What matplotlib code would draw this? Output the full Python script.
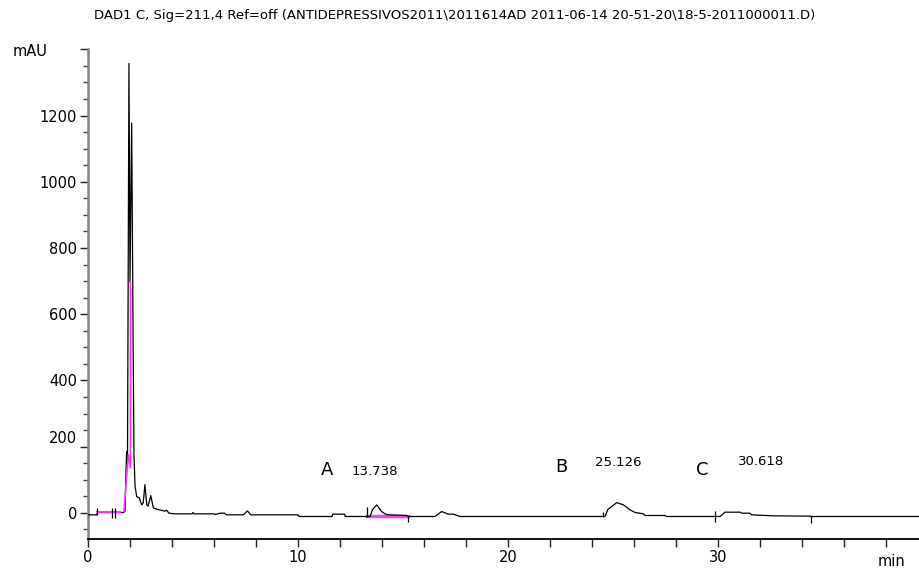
import matplotlib
matplotlib.use('Agg')
import matplotlib.pyplot as plt
from matplotlib.ticker import MultipleLocator, FixedLocator
import matplotlib.transforms as mtransforms

# signal (min, mAU)
time = [0.0, 0.42, 0.45, 1.70, 1.76, 1.81, 1.84, 1.88, 1.95, 2.00, 2.08, 2.16, 2.19,
        2.24, 2.32, 2.44, 2.56, 2.63, 2.71, 2.80, 2.86, 2.99, 3.11, 3.27, 3.67,
        3.75, 3.85, 4.1, 4.95, 5.0, 5.05, 6.0, 6.05, 6.3, 6.5, 6.6, 7.4, 7.59,
        7.75, 10.0, 10.05, 11.62, 11.65, 12.22, 12.25, 13.43, 13.55, 13.75,
        13.98, 14.14, 14.3, 15.17, 15.25, 16.52, 16.84, 17.16, 17.4, 17.71,
        24.62, 24.75, 25.18, 25.5, 25.81, 26.05, 26.44, 26.52, 27.48, 27.55,
        30.1, 30.33, 31.05, 31.13, 31.52, 31.6, 32.63, 34.4, 34.45, 39.6]
signal = [-6, -6, 1, 1, 5, 125, 185, 150, 1357, 697, 1177, 413, 175,
          80, 49, 45, 24, 30, 85, 24, 20, 52, 15, 11, 5,
          8, -1, -3, -3, 1, -3, -3, -5, -1, -1, -6, -6, 6,
          -6, -6, -11, -11, -4, -4, -11, -11, 10, 24,
          4, -3, -6, -8, -11, -11, 4, -4, -4, -11,
          -11, 10, 31, 24, 9, 1, -3, -8, -8, -11,
          -11, 2, 2, -1, -1, -6, -9, -10, -11, -11]

# integration traces (magenta)
base1_t = [0.45, 1.5]
base1_v = [3, 3]
peak1_t = [1.71, 1.92, 2.02, 2.02]
peak1_v = [4, 176, 136, 697]
base2_t = [13.27, 15.25]
base2_v = [-11, -11]

# integration event marks
event_t = [0.45, 1.16, 1.29, 13.27, 15.24, 24.5, 29.86, 34.43]
event_lo = [-6, -15, -15, -12, -29, -12, -29, -30]
event_hi = [15, 15, 15, 18, -11, 4, 7, -11]

# peak labels
labels = ['A', 'B', 'C']
label_t = [11.38, 22.52, 29.24]
label_v = [130, 139, 130]
rt_text = ['13.738', '25.126', '30.618']
rt_t = [12.57, 24.14, 30.95]
rt_v = [124, 152, 155]

y_major = [0, 200, 400, 600, 800, 1000, 1200, 1400]
y_labels = ['0', '200', '400', '600', '800', '1000', '1200', '']

plt.rcParams['font.family'] = 'DejaVu Sans'

fig = plt.figure(figsize=(9.19, 5.70), dpi=100)
ax = fig.add_axes([88/919, 1-539/570, 1-88/919, (539-49.3)/570])

ax.plot(time, signal, color='black', lw=0.9, zorder=3)
ax.plot(base1_t, base1_v, color='#ff33ff', lw=1.4, zorder=4)
ax.plot(peak1_t, peak1_v, color='#ff33ff', lw=1.2, zorder=4)
ax.plot(base2_t, base2_v, color='#e050e0', lw=2.5, zorder=2)
ax.vlines(event_t, event_lo, event_hi, color='black', lw=0.9, zorder=5)

for lab, t, v in zip(labels, label_t, label_v):
    ax.text(t, v, lab, fontsize=13, ha='center', va='center')
for lab, t, v in zip(rt_text, rt_t, rt_v):
    ax.text(t, v, lab, fontsize=9.5, ha='left', va='center')

ax.set_xlim(0, 39.57)
ax.set_ylim(-79, 1400)

ax.spines['top'].set_visible(False)
ax.spines['right'].set_visible(False)
ax.spines['left'].set_color('#808080')
ax.spines['left'].set_linewidth(1.8)
ax.spines['bottom'].set_color('black')
ax.spines['bottom'].set_linewidth(1.3)

ax.xaxis.set_major_locator(MultipleLocator(10))
ax.xaxis.set_minor_locator(MultipleLocator(2))
ax.yaxis.set_major_locator(FixedLocator(y_major))
ax.set_yticklabels(y_labels)
ax.yaxis.set_minor_locator(MultipleLocator(50))
ax.tick_params(axis='both', which='major', direction='out', length=6, width=1,
               color='#222222', labelsize=10.5, pad=2)
ax.tick_params(axis='y', which='minor', direction='out', length=3.5, width=1, color='#444444')
ax.tick_params(axis='x', which='minor', direction='out', length=6, width=1, color='#222222')

# the 200 label sits a little above its tick in the original
lbl = ax.get_yticklabels()[1]
lbl.set_transform(lbl.get_transform() + mtransforms.ScaledTranslation(0, 10/100, fig.dpi_scale_trans))

fig.text(94/919, 1-15/570,
         'DAD1 C, Sig=211,4 Ref=off (ANTIDEPRESSIVOS2011\\2011614AD 2011-06-14 20-51-20\\18-5-2011000011.D)',
         fontsize=9.5, ha='left', va='center')
fig.text(13/919, 1-51/570, 'mAU', fontsize=10.5, ha='left', va='center')
fig.text(878/919, 1-561/570, 'min', fontsize=10.5, ha='left', va='center')

fig.savefig('out.png', dpi=100)
